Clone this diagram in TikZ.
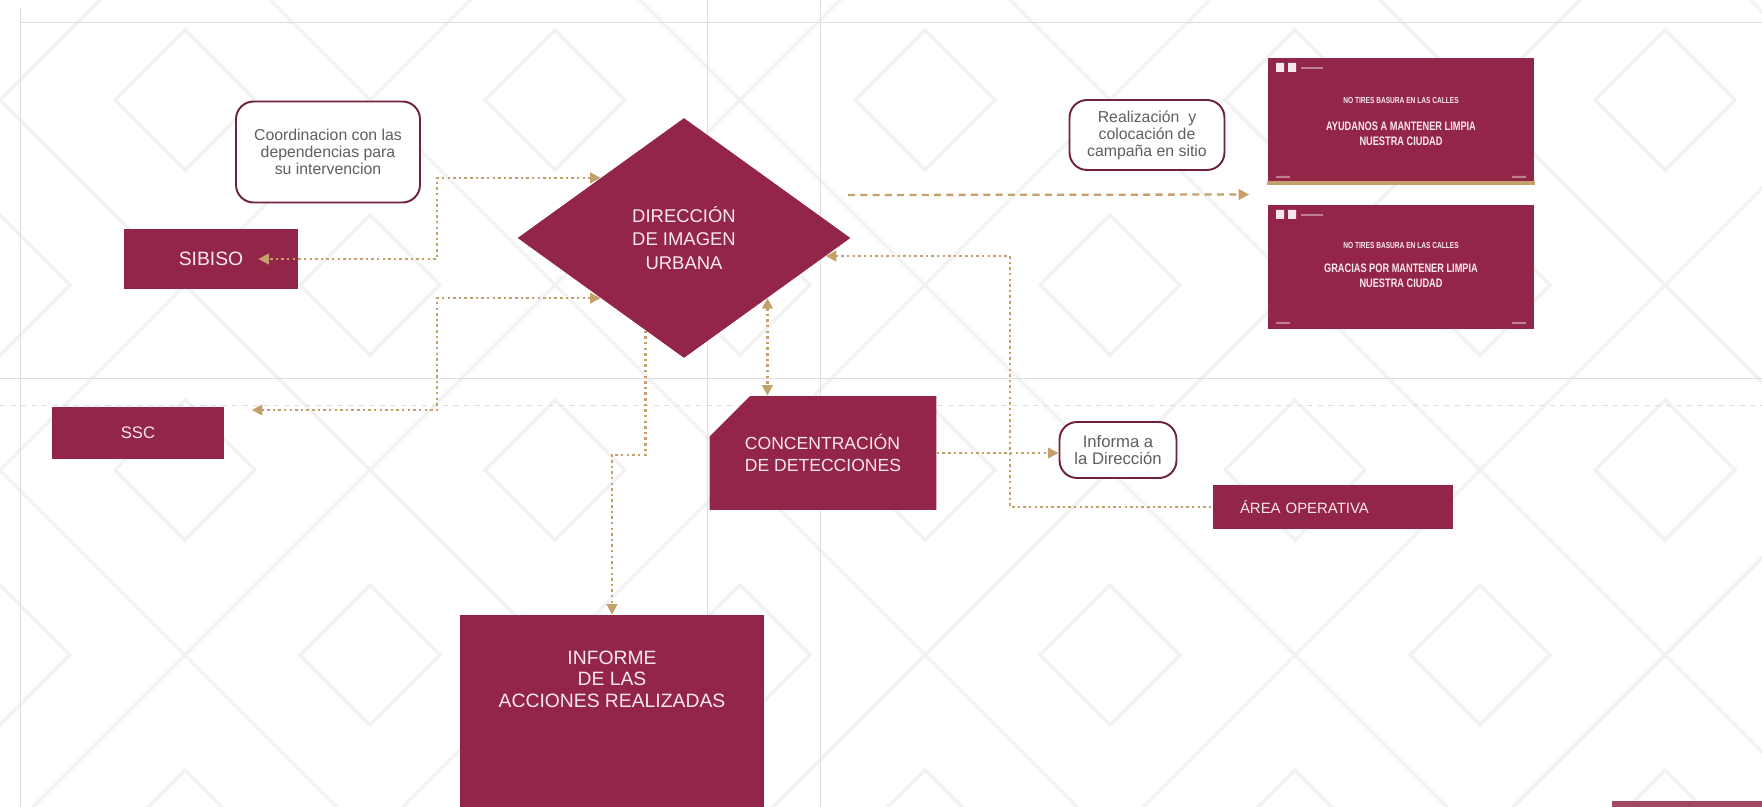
\documentclass[tikz,border=0pt]{standalone}
\usepackage{fontspec}
\usepackage{graphicx}
\setmainfont{Liberation Sans}
\usetikzlibrary{shapes.geometric,shapes.misc,arrows.meta,calc}

\definecolor{guinda}{RGB}{147,38,72}
\definecolor{oro}{RGB}{196,160,108}
\definecolor{marco}{RGB}{112,34,60}
\definecolor{gris}{RGB}{95,95,95}
\definecolor{rosa}{RGB}{248,232,236}

\tikzset{
  bloque/.style={fill=guinda, text=rosa, inner sep=0pt, align=center},
  nota/.style={draw=marco, line width=1.1pt, fill=white, rounded corners=10pt, text=gris,
    inner sep=0pt, align=center, font=\fontsize{9}{9.6}\selectfont},
  flujo/.style={draw=oro, line width=1.3pt, dash pattern=on 1.4pt off 1.8pt},
  punta/.tip={Triangle[length=6pt,width=6pt]},
  guia/.style={draw=black!13, line width=0.5pt},
  fondo/.style={draw=black!5, line width=2pt},
  lema/.style={text=rosa, font=\bfseries\fontsize{5}{6}\selectfont},
  campana/.style={text=rosa, align=center, font=\bfseries\fontsize{7}{8.6}\selectfont}
}

\begin{document}
\begin{tikzpicture}[x=0.02cm, y=-0.02cm]
  \useasboundingbox (0,0) rectangle (1762,807);
  % fondo
  \begin{scope}
    \clip (0,0) rectangle (1762,807);
    \foreach \k in {-3,...,8} {
      \draw[fondo] (370*\k-1000,-900) -- (370*\k+1000,1100);
      \draw[fondo] (370*\k-1000,1100) -- (370*\k+1000,-900);
    }
    \foreach \i in {0,...,5} \foreach \j in {-1,...,2} {
      \draw[fondo] (370*\i+185,100+370*\j) +(-70,0) -- +(0,-70) -- +(70,0) -- +(0,70) -- cycle;
      \draw[fondo] (370*\i,285+370*\j) +(-70,0) -- +(0,-70) -- +(70,0) -- +(0,70) -- cycle;
    }
  \end{scope}
  \draw[guia] (20,8) -- (20,807) (707,0) -- (707,807) (820,0) -- (820,807);
  \draw[guia] (20,22) -- (1762,22) (0,378) -- (1762,378);
  \draw[guia, dashed] (0,405) -- (1762,405);

  \node (sibiso) [bloque, minimum width=3.48cm, minimum height=1.2cm, font=\fontsize{11}{13}\selectfont] at (211,259) {SIBISO};
  \node (ssc) [bloque, minimum width=3.46cm, minimum height=1.06cm, font=\fontsize{9.5}{11}\selectfont] at (138,433) {SSC};
  \node (coord) [nota, minimum width=3.68cm, minimum height=2.02cm] at (328,152) {Coordinacion con las\\dependencias para\\su intervencion};
  \node (dir) [bloque, diamond, minimum width=6.66cm, minimum height=4.8cm, font=\fontsize{10.5}{13.6}\selectfont] at (684,238) {DIRECCIÓN\\DE IMAGEN\\URBANA};
  \node (realiz) [nota, minimum width=3.1cm, minimum height=1.4cm] at (1147,135) {Realización~~y\\colocación de\\campaña en sitio};
  \node (slideA) [bloque, minimum width=5.34cm, minimum height=2.54cm] at (1401,121) {};
  \node (slideB) [bloque, minimum width=5.34cm, minimum height=2.5cm] at (1401,267) {};
  \node (conc) [bloque, chamfered rectangle, chamfered rectangle corners=north west,
    chamfered rectangle xsep=18pt, chamfered rectangle ysep=12.5pt, align=left,
    minimum width=4.54cm, minimum height=2.28cm, font=\fontsize{10}{12.5}\selectfont] at (823,453) {CONCENTRACIÓN\\DE DETECCIONES};
  \node (informa) [nota, minimum width=2.34cm, minimum height=1.12cm, font=\fontsize{9.5}{10}\selectfont] at (1118,450) {Informa a\\la Dirección};
  \node (area) [bloque, minimum width=4.8cm, minimum height=0.9cm, text width=3.72cm, align=left,
    inner xsep=0.54cm, font=\fontsize{8.5}{10}\selectfont] at (1333,507) {ÁREA OPERATIVA};
  \node (informe) [bloque, minimum width=6.1cm, minimum height=3.84cm] at (612,711) {};
  \node (informetxt) [text=rosa, align=center, font=\fontsize{11}{12.2}\selectfont] at (612,679) {INFORME\\DE LAS\\ACCIONES REALIZADAS};

  % carteles de la campana
  \fill[oro] (slideA.south west) rectangle ([yshift=2pt]slideA.south east);
  \foreach \s/\y in {slideA/63,slideB/210} {
    \fill[rosa] (1276,\y) rectangle +(8,9) (1288,\y) rectangle +(8,9);
    \fill[rosa!45!guinda] (1301,\y+4) rectangle +(22,2);
  }
  \fill[rosa!45!guinda] (1276,176) rectangle +(14,2) (1512,176) rectangle +(14,2);
  \fill[rosa!45!guinda] (1276,322) rectangle +(14,2) (1512,322) rectangle +(14,2);
  \node (lemaA) [lema] at (1401,100) {\scalebox{0.75}[1]{NO TIRES BASURA EN LAS CALLES}};
  \node (textoA) [campana] at (1401,134) {\scalebox{0.75}[1]{AYUDANOS A MANTENER LIMPIA}\\\scalebox{0.75}[1]{NUESTRA CIUDAD}};
  \node (lemaB) [lema] at (1401,245) {\scalebox{0.75}[1]{NO TIRES BASURA EN LAS CALLES}};
  \node (textoB) [campana] at (1401,276) {\scalebox{0.75}[1]{GRACIAS POR MANTENER LIMPIA}\\\scalebox{0.75}[1]{NUESTRA CIUDAD}};
  \fill[guinda!85] (1612,801) rectangle (1762,807);

  % conexiones
  \coordinate (busL) at (437,0);
  \coordinate (busR) at (1010,0);
  \coordinate (camp) at (848,195);
  \coordinate (sscin) at ($(ssc.east)+(27,-23)$);
  \coordinate (dinf) at ($(dir.west)!0.77!(dir.south)$);
  \coordinate (dder) at ($(dir.east)!0.15!(dir.south)$);
  \coordinate (entre) at ($(slideA.south west)!0.5!(slideB.north west)$);
  \draw[flujo, punta-punta, shorten >=-0.8cm] (dir.north west) -| (busL |- sibiso.east) -- (sibiso.east);
  \draw[flujo, punta-punta] (dir.south west) -| (busL |- sscin) -- (sscin);
  \draw[flujo, -punta] (dinf) |- ($(informe.north)+(0,-160)$) -- (informe.north);
  \draw[flujo, punta-punta] (dir.south east) -- (dir.south east |- conc.north);
  \draw[flujo, punta-] (dder) -| (busR |- area.west) -- (area.west);
  \draw[flujo, dash pattern=on 4pt off 3pt, -punta, shorten >=0.36cm] (camp) -- (entre);
  \draw[flujo, -punta] (conc.east) -- (conc.east -| informa.west);
\end{tikzpicture}
\end{document}
